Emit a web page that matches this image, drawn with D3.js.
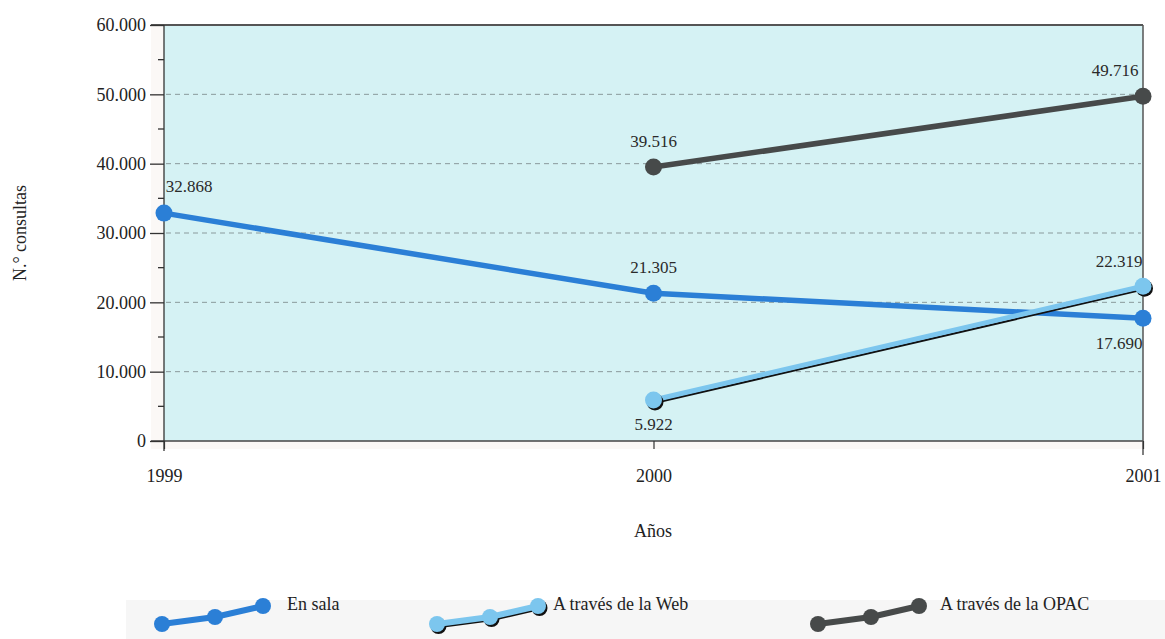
<!DOCTYPE html>
<html><head><meta charset="utf-8">
<script src="https://cdn.jsdelivr.net/npm/d3@7/dist/d3.min.js"></script>
<style>body{margin:0;background:#fff;}svg text{font-family:"Liberation Serif","DejaVu Serif",serif !important;}</style>
</head><body>
<svg id="c" width="1165" height="639"></svg>
<script>
const years = ["1999","2000","2001"];
const enSala = [32868, 21305, 17690];
const web = [null, 5922, 22319];
const opac = [null, 39516, 49716];
const seriesNames = ["En sala","A través de la Web","A través de la OPAC"];
const yTicks = [0,10000,20000,30000,40000,50000,60000];
const yTickLabels = ["0","10.000","20.000","30.000","40.000","50.000","60.000"];
const xTickLabels = ["1999","2000","2001"];

const FONT = "'Liberation Serif', 'DejaVu Serif', serif";
const svg = d3.select("#c");
const x = d3.scalePoint().domain(years).range([164,1143]);
const y = d3.scaleLinear().domain([0,60000]).range([441,25]);

svg.append("rect").attr("x",151).attr("y",25).attr("width",1143-151).attr("height",441-25+8).attr("fill","#fbf8f6");
svg.append("rect").attr("x",164).attr("y",25).attr("width",1143-164).attr("height",441-25).attr("fill","#d5f2f4");

svg.append("g").selectAll("line").data([10000,20000,30000,40000,50000]).join("line")
  .attr("x1",166).attr("x2",1141).attr("y1",d=>y(d)).attr("y2",d=>y(d))
  .attr("stroke","#8a9a9c").attr("stroke-width",1).attr("stroke-dasharray","5,4");

svg.append("line").attr("x1",151).attr("x2",1143).attr("y1",25).attr("y2",25).attr("stroke","#555").attr("stroke-width",2);
svg.append("line").attr("x1",151).attr("x2",1143).attr("y1",441).attr("y2",441).attr("stroke","#444").attr("stroke-width",1.3);
svg.append("line").attr("x1",1143).attr("x2",1143).attr("y1",25).attr("y2",455).attr("stroke","#555").attr("stroke-width",1.5);

const yAxis = d3.axisLeft(y).tickValues(yTicks).tickFormat((d,i)=>yTickLabels[i]).tickSize(14).tickPadding(4);
const gy = svg.append("g").attr("transform","translate(164,0)").call(yAxis).attr("font-family",FONT);
gy.select(".domain").attr("stroke","#333").attr("stroke-width",1.3).attr("d","M0,25V451");
gy.selectAll(".tick line").attr("stroke","#333").attr("stroke-width",1.3);
gy.selectAll(".tick text").attr("font-size",18).attr("fill","#222").attr("font-family",FONT);
svg.append("g").selectAll("line").data([5000,15000,25000,35000,45000,55000]).join("line")
  .attr("x1",158).attr("x2",164).attr("y1",d=>y(d)).attr("y2",d=>y(d)).attr("stroke","#333").attr("stroke-width",1.3);

const xAxis = d3.axisBottom(x).tickFormat((d,i)=>xTickLabels[i]).tickSize(8).tickPadding(20);
const gx = svg.append("g").attr("transform","translate(0,441)").call(xAxis).attr("font-family",FONT);
gx.select(".domain").remove();
gx.selectAll(".tick line").attr("stroke","#333").attr("stroke-width",1.2);
gx.selectAll(".tick text").attr("font-size",18).attr("fill","#222").attr("font-family",FONT);

svg.append("text").attr("x",653).attr("y",537).attr("text-anchor","middle").attr("font-size",18).attr("font-family",FONT).attr("fill","#222").text("Años");
svg.append("text").attr("transform","translate(26,233) rotate(-90)").attr("text-anchor","middle").attr("font-size",18).attr("font-family",FONT).attr("fill","#222").text("N.° consultas");

const colors = {sala:"#2b7fd6", web:"#7cc6ee", opac:"#474a4a"};
const line = d3.line().defined(d=>d.v!=null).x(d=>x(d.k)).y(d=>y(d.v));
function pts(arr){return years.map((k,i)=>({k, v:arr[i]}));}

svg.append("path").datum(pts(opac)).attr("d",line).attr("fill","none").attr("stroke",colors.opac).attr("stroke-width",5.5);
svg.append("path").datum(pts(enSala)).attr("d",line).attr("fill","none").attr("stroke",colors.sala).attr("stroke-width",5.5);
svg.append("path").datum(pts(web)).attr("d",line).attr("fill","none").attr("stroke","#111").attr("stroke-width",2.2).attr("transform","translate(1,3)");
svg.append("path").datum(pts(web)).attr("d",line).attr("fill","none").attr("stroke",colors.web).attr("stroke-width",5);

function markers(arr,col,shadow){
  const d = pts(arr).filter(p=>p.v!=null);
  if(shadow){
    svg.append("g").selectAll("circle").data(d).join("circle")
      .attr("cx",p=>x(p.k)+1.5).attr("cy",p=>y(p.v)+2).attr("r",8.5).attr("fill","#111");
  }
  svg.append("g").selectAll("circle").data(d).join("circle")
    .attr("cx",p=>x(p.k)).attr("cy",p=>y(p.v)).attr("r",8.5).attr("fill",col);
}
markers(opac,colors.opac,false);
markers(enSala,colors.sala,false);
markers(web,colors.web,true);

const fmt = v => d3.format(",")(v).replace(/,/g,".");
const labels = [
  {k:"1999", v:enSala[0], dx:25, dy:-21},
  {k:"2000", v:enSala[1], dx:0, dy:-20},
  {k:"2001", v:enSala[2], dx:-24, dy:31},
  {k:"2000", v:web[1], dx:0, dy:30},
  {k:"2001", v:web[2], dx:-24, dy:-19},
  {k:"2000", v:opac[1], dx:0, dy:-20},
  {k:"2001", v:opac[2], dx:-28, dy:-20}
];
svg.append("g").selectAll("text").data(labels).join("text")
  .attr("x",d=>x(d.k)+d.dx).attr("y",d=>y(d.v)+d.dy).attr("text-anchor","middle")
  .attr("font-size",17).attr("font-family",FONT).attr("fill","#2a2a2a").text(d=>fmt(d.v));

const legend = [
  {name:seriesNames[0], col:colors.sala, x0:162, tx:287, shadow:false},
  {name:seriesNames[1], col:colors.web, x0:437, tx:553, shadow:true},
  {name:seriesNames[2], col:colors.opac, x0:818, tx:940, shadow:false}
];
svg.append("rect").attr("x",126).attr("y",600).attr("width",1039).attr("height",39).attr("fill","#f6f6f6");
legend.forEach(L=>{
  const p = [[L.x0,624],[L.x0+53,617],[L.x0+101,606]];
  const g = svg.append("g");
  if(L.shadow){
    g.append("polyline").attr("points",p.map(q=>[q[0]+1,q[1]+3].join(",")).join(" ")).attr("fill","none").attr("stroke","#111").attr("stroke-width",2.5);
    p.forEach(q=>g.append("circle").attr("cx",q[0]+1.5).attr("cy",q[1]+2).attr("r",8).attr("fill","#111"));
  }
  g.append("polyline").attr("points",p.map(q=>q.join(",")).join(" ")).attr("fill","none").attr("stroke",L.col).attr("stroke-width",6);
  p.forEach(q=>g.append("circle").attr("cx",q[0]).attr("cy",q[1]).attr("r",8).attr("fill",L.col));
  g.append("text").attr("x",L.tx).attr("y",610).attr("font-size",18).attr("font-family",FONT).attr("fill","#222").text(L.name);
});
</script>
</body></html>
